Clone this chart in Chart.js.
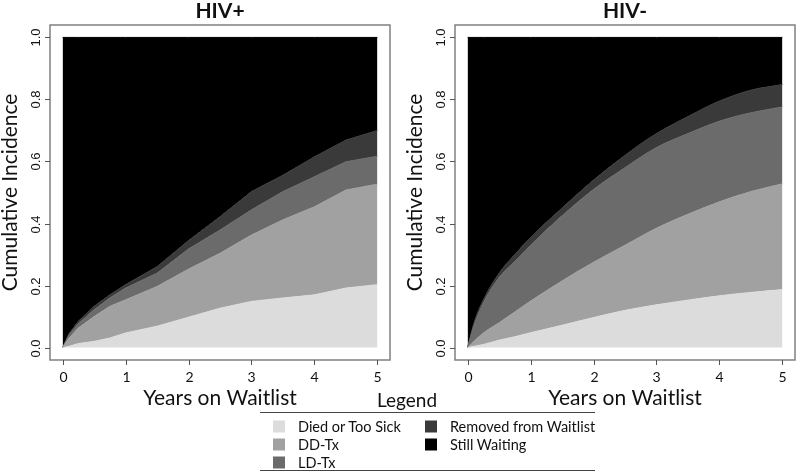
<!DOCTYPE html>
<html lang="en">
<head>
  <meta charset="UTF-8">
  <title>Cumulative Incidence - HIV+ vs HIV-</title>
  <script src="https://cdn.jsdelivr.net/npm/chart.js"></script>
  <style>
    body { margin: 0; background: #fff; font-family: Lato, "Open Sans", sans-serif; }
    #page { position: relative; width: 797px; height: 474px; overflow: hidden; }
    .panel { position: absolute; top: 0; height: 474px; }
    #legend { position: absolute; left: 0; top: 0; width: 797px; height: 474px; pointer-events: none; }
    #legend .title { position: absolute; left: 407px; top: 399px; transform: translate(-50%, -50%); font-size: 19px; color: #111; }
    #legend .rule { position: absolute; left: 260px; width: 335px; border-top: 1.5px solid #444; }
    #legend .item { position: absolute; font-size: 14.5px; color: #111; transform: translateY(-50%); white-space: nowrap; }
    #legend .item i { display: inline-block; width: 12px; height: 12px; vertical-align: -1px; margin-right: 13px; }
  </style>
</head>
<body>
  <div id="page">
    <div class="panel" style="left:0;width:398px"><canvas id="hivPos"></canvas></div>
    <div class="panel" style="left:397px;width:400px"><canvas id="hivNeg"></canvas></div>
    <div id="legend">
      <div class="title">Legend</div>
      <div class="rule" style="top:412px"></div>
      <div class="rule" style="top:470px"></div>
    </div>
  </div>

  <script>
    const years = [0, 0.1, 0.25, 0.5, 0.75, 1, 1.5, 2, 2.5, 3, 3.5, 4, 4.5, 5];
    const xTicks = [0, 1, 2, 3, 4, 5];
    const yTicks = [0, 0.2, 0.4, 0.6, 0.8, 1.0];
    const outcomes = ['Died or Too Sick', 'DD-Tx', 'LD-Tx', 'Removed from Waitlist', 'Still Waiting'];

    // HIV+ cumulative incidence per outcome (stacked in the plot)
    const hivPosDied    = [0, .004, .013, .02, .031, .047, .069, .098, .127, .149, .16, .17, .192, .203];
    const hivPosDD      = [0, .026, .05, .08, .102, .107, .128, .155, .177, .214, .252, .284, .316, .324];
    const hivPosLD      = [0, .01, .014, .022, .027, .038, .043, .065, .075, .081, .091, .097, .091, .09];
    const hivPosRemoved = [0, .005, .008, .011, .01, .011, .021, .027, .043, .059, .053, .064, .07, .083];
    const hivPosWaiting = [1, .955, .915, .867, .83, .797, .739, .655, .578, .497, .444, .385, .331, .30];

    // HIV- cumulative incidence per outcome
    const hivNegDied    = [0, .004, .01, .024, .035, .048, .072, .097, .12, .138, .153, .167, .178, .187];
    const hivNegDD      = [0, .016, .037, .056, .08, .102, .143, .178, .21, .247, .277, .303, .325, .341];
    const hivNegLD      = [0, .05, .097, .146, .163, .18, .21, .235, .25, .26, .26, .26, .254, .248];
    const hivNegRemoved = [0, .009, .01, .014, .022, .025, .025, .03, .04, .045, .055, .065, .073, .072];
    const hivNegWaiting = [1, .921, .846, .76, .70, .645, .55, .46, .38, .31, .255, .205, .17, .152];

    const colors = ['#dcdcdc', '#a1a1a1', '#6b6b6b', '#3a3a3a', '#000000'];

    // R-style frame, ticks and labels drawn from the chart's own scales
    const rAxes = {
      id: 'rAxes',
      afterDraw(chart, args, opts) {
        const { ctx, chartArea: a, scales: { x, y } } = chart;
        ctx.save();
        ctx.strokeStyle = '#808080';
        ctx.lineWidth = 1.5;
        ctx.strokeRect(a.left, a.top, a.width, a.height);

        ctx.strokeStyle = '#555';
        ctx.lineWidth = 1;
        ctx.fillStyle = '#111';
        ctx.textAlign = 'center';
        ctx.textBaseline = 'middle';

        ctx.font = '14px Lato';
        xTicks.forEach(v => {
          const px = Math.round(x.getPixelForValue(v)) + 0.5;
          ctx.beginPath(); ctx.moveTo(px, a.bottom); ctx.lineTo(px, a.bottom + 5); ctx.stroke();
          ctx.fillText(String(v), px, a.bottom + 17);
        });

        ctx.font = '13px "Liberation Sans"';
        yTicks.forEach(v => {
          const py = Math.round(y.getPixelForValue(v)) + 0.5;
          ctx.beginPath(); ctx.moveTo(a.left - 5, py); ctx.lineTo(a.left, py); ctx.stroke();
          ctx.save();
          ctx.translate(a.left - 14, py);
          ctx.rotate(-Math.PI / 2);
          ctx.fillText(v.toFixed(1), 0, 0);
          ctx.restore();
        });

        const cx = (a.left + a.right) / 2;
        ctx.font = '21px Lato';
        ctx.fillText('Years on Waitlist', cx, a.bottom + 38);

        ctx.save();
        ctx.translate(a.left - 40, (a.top + a.bottom) / 2);
        ctx.rotate(-Math.PI / 2);
        ctx.fillText('Cumulative Incidence', 0, 0);
        ctx.restore();

        ctx.font = 'bold 21px Lato';
        ctx.fillText(opts.title, cx, a.top - 14);
        ctx.restore();
      }
    };

    function makeChart(id, title, series, smooth, padding) {
      const datasets = series.map((vals, i) => ({
        label: outcomes[i],
        data: years.map((t, j) => ({ x: t, y: vals[j] })),
        backgroundColor: colors[i],
        borderColor: colors[i],
        borderWidth: 1,
        pointRadius: 0,
        fill: i === 0 ? 'origin' : '-1',
        tension: 0,
        cubicInterpolationMode: smooth ? 'monotone' : 'default'
      }));

      return new Chart(document.getElementById(id), {
        type: 'line',
        data: { datasets },
        options: {
          responsive: false,
          animation: false,
          layout: { padding },
          plugins: {
            legend: { display: false },
            tooltip: { enabled: false },
            rAxes: { title }
          },
          scales: {
            x: { type: 'linear', min: -0.2, max: 5.2, display: false },
            y: { stacked: true, min: -0.04, max: 1.04, display: false }
          }
        },
        plugins: [rAxes]
      });
    }

    const posCanvas = document.getElementById('hivPos');
    posCanvas.width = 398; posCanvas.height = 474;
    const negCanvas = document.getElementById('hivNeg');
    negCanvas.width = 400; negCanvas.height = 474;

    makeChart('hivPos', 'HIV+',
      [hivPosDied, hivPosDD, hivPosLD, hivPosRemoved, hivPosWaiting], false,
      { left: 50, right: 8, top: 25, bottom: 114 });
    makeChart('hivNeg', 'HIV-',
      [hivNegDied, hivNegDD, hivNegLD, hivNegRemoved, hivNegWaiting], true,
      { left: 58, right: 2, top: 25, bottom: 114 });

    // legend: two columns like the reference
    const legend = document.getElementById('legend');
    const legendPos = [[273, 426], [273, 444], [273, 462], [425, 426], [425, 444]];
    outcomes.forEach((name, i) => {
      const el = document.createElement('div');
      el.className = 'item';
      el.style.left = legendPos[i][0] + 'px';
      el.style.top = legendPos[i][1] + 'px';
      el.innerHTML = `<i style="background:${colors[i]}"></i>${name}`;
      legend.appendChild(el);
    });
  </script>
</body>
</html>
